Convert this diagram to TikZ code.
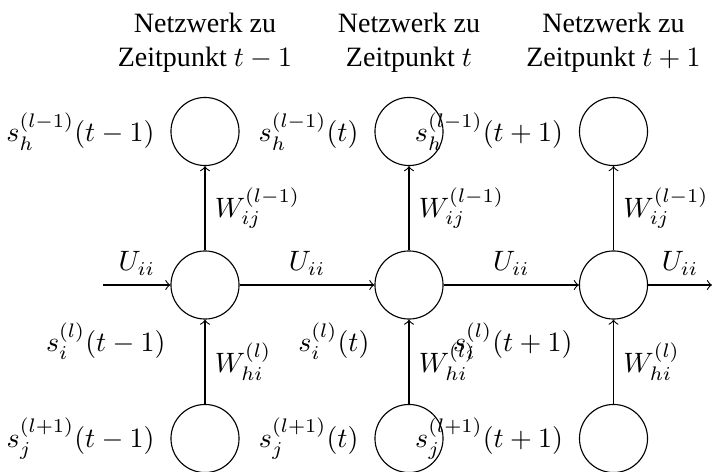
\documentclass[tikz,border=0pt]{standalone}
\usepackage[no-math]{fontspec}
\setmainfont{Liberation Serif}
\begin{document}
\begin{tikzpicture}[x=0.357pt, y=-0.357pt,
  neuron/.style={circle, draw, line width=0.4pt, minimum size=24.3pt, inner sep=0pt},
  header/.style={align=center, inner sep=0pt},
  lab/.style={inner sep=0pt},
  conn/.style={->, line width=0.4pt}]
\useasboundingbox (0,0) rectangle (712,472);
% neurons
\foreach \n/\x in {a/205, b/409, c/613.5}{
  \node[neuron] (\n top) at (\x,131.5) {};
  \node[neuron] (\n mid) at (\x,285) {};
  \node[neuron] (\n bot) at (\x,438.5) {};
}
% headers
\node[header] (ha) at (205,43) {Netzwerk zu\\Zeitpunkt $t-1$};
\node[header] (hb) at (409,43) {Netzwerk zu\\Zeitpunkt $t$};
\node[header] (hc) at (613.5,43) {Netzwerk zu\\Zeitpunkt $t+1$};
% state labels
\node[lab, anchor=east] (lta) at (155,131.5) {$s_h^{(l-1)}(t-1)$};
\node[lab, anchor=east] (ltb) at (359,131.5) {$s_h^{(l-1)}(t)$};
\node[lab, anchor=east] (ltc) at (563.5,131.5) {$s_h^{(l-1)}(t+1)$};
\node[lab, anchor=east] (lma) at (166,341) {$s_i^{(l)}(t-1)$};
\node[lab, anchor=east] (lmb) at (370,341) {$s_i^{(l)}(t)$};
\node[lab, anchor=east] (lmc) at (573,341) {$s_i^{(l)}(t+1)$};
\node[lab, anchor=east] (lba) at (155,438.5) {$s_j^{(l+1)}(t-1)$};
\node[lab, anchor=east] (lbb) at (359,438.5) {$s_j^{(l+1)}(t)$};
\node[lab, anchor=east] (lbc) at (563.5,438.5) {$s_j^{(l+1)}(t+1)$};
% vertical connectors
\foreach \n in {a,b,c}{
  \draw[conn] (\n mid) -- node[midway, right] {$W_{ij}^{(l-1)}$} (\n top);
  \draw[conn] (\n bot) -- node[midway, right] {$W_{hi}^{(l)}$} (\n mid);
}
% horizontal connectors
\coordinate (in) at (103,285);
\coordinate (out) at (712,285);
\draw[conn] (in) -- node[midway, above] {$U_{ii}$} (amid);
\draw[conn] (amid) -- node[midway, above] {$U_{ii}$} (bmid);
\draw[conn] (bmid) -- node[midway, above] {$U_{ii}$} (cmid);
\draw[conn] (cmid) -- node[midway, above] {$U_{ii}$} (out);
\end{tikzpicture}
\end{document}
